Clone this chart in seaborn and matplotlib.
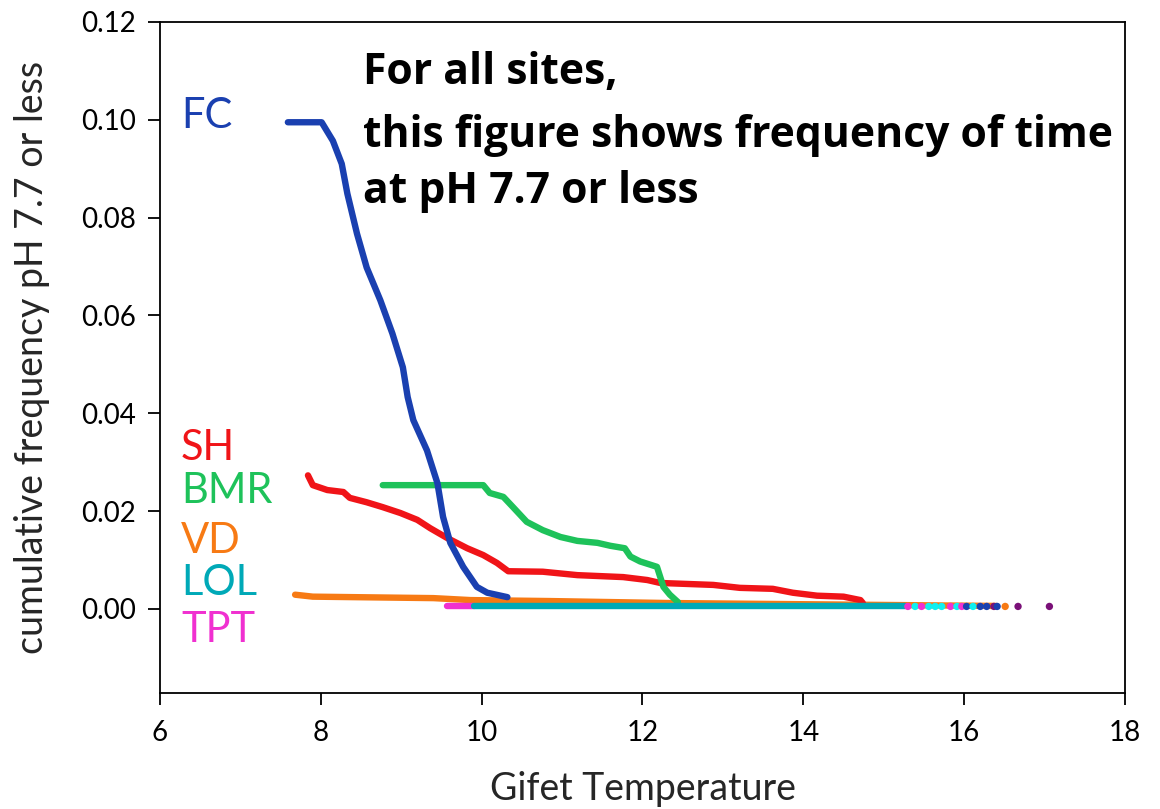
import matplotlib
matplotlib.use("Agg")
import matplotlib.pyplot as plt
import seaborn as sns
import pandas as pd

# ---------------- data ----------------
fc_x = [7.59, 8.01, 8.15, 8.26, 8.33, 8.45, 8.57, 8.74, 8.89, 9.02, 9.08, 9.15,
        9.32, 9.45, 9.52, 9.61, 9.77, 9.94, 10.07, 10.32]
fc_y = [0.0995, 0.0995, 0.0957, 0.0910, 0.0849, 0.0767, 0.0698, 0.0631, 0.0563,
        0.0494, 0.0433, 0.0386, 0.0324, 0.0257, 0.0188, 0.0135, 0.0086, 0.0045,
        0.0033, 0.0024]

sh_x = [7.84, 7.90, 8.08, 8.28, 8.36, 8.57, 8.77, 8.99, 9.20, 9.36, 9.57, 9.82,
        10.02, 10.19, 10.33, 10.76, 11.19, 11.76, 12.06, 12.22, 12.88, 13.21,
        13.62, 13.87, 14.17, 14.50, 14.71, 14.74]
sh_y = [0.0273, 0.0253, 0.0243, 0.0239, 0.0227, 0.0218, 0.0208, 0.0196, 0.0182,
        0.0165, 0.0145, 0.0124, 0.0110, 0.0094, 0.0077, 0.0076, 0.0069, 0.0065,
        0.0059, 0.0053, 0.0049, 0.0043, 0.0041, 0.0033, 0.0027, 0.0025, 0.0018,
        0.0012]

bmr_x = [8.77, 10.02, 10.10, 10.27, 10.39, 10.56, 10.76, 10.98, 11.19, 11.44,
         11.60, 11.78, 11.85, 11.97, 12.18, 12.26, 12.34, 12.44]
bmr_y = [0.0253, 0.0253, 0.0237, 0.0229, 0.0208, 0.0178, 0.0161, 0.0147, 0.0139,
         0.0135, 0.0129, 0.0124, 0.0107, 0.0097, 0.0086, 0.0045, 0.0029, 0.0014]

vd_x = [7.68, 7.90, 9.40, 9.86, 10.85, 12.30, 16.40]
vd_y = [0.0029, 0.0025, 0.0022, 0.0018, 0.0016, 0.0012, 0.0006]

tpt_x = [9.57, 9.90]
tpt_y = [0.0005, 0.0005]

lol_x = [9.90, 15.27]
lol_y = [0.0005, 0.0005]

dot_x = [15.30, 15.39, 15.47, 15.56, 15.64, 15.72, 15.83, 15.91, 15.97, 16.03,
         16.11, 16.20, 16.28, 16.37, 16.41, 16.51, 16.67, 17.06]
dot_y = [0.0005] * len(dot_x)
dot_group = ["TPT", "cyan", "TPT", "cyan", "cyan", "cyan", "TPT", "cyan", "TPT",
             "FC", "cyan", "FC", "FC", "purple", "FC", "VD", "purple", "purple"]

site_names = ["FC", "SH", "BMR", "VD", "LOL", "TPT"]
site_label_y = [0.0984, 0.0304, 0.0216, 0.0114, 0.0029, -0.0067]

annot_lines = ["For all sites,", "this figure shows frequency of time",
               "at pH 7.7 or less"]
annot_y = [0.1073, 0.0945, 0.0829]

x_ticks = [6, 8, 10, 12, 14, 16, 18]
y_ticks = [0.00, 0.02, 0.04, 0.06, 0.08, 0.10, 0.12]

colors = {"FC": "#1a40b0", "SH": "#f01418", "BMR": "#1ec25a", "VD": "#f77a14",
          "LOL": "#00a9b7", "TPT": "#f030d0", "cyan": "#10f0f0",
          "purple": "#7a1078"}

# ---------------- plot ----------------
sns.set_style("ticks")
plt.rcParams["font.family"] = ["Lato", "DejaVu Sans"]

fig = plt.figure(figsize=(11.6, 8.09), dpi=100)
ax = fig.add_axes([160 / 1160, 1 - 693 / 809, (1125 - 160) / 1160, (693 - 22) / 809])

lw = 4.6
series = [("VD", vd_x, vd_y), ("SH", sh_x, sh_y), ("BMR", bmr_x, bmr_y),
          ("FC", fc_x, fc_y), ("TPT", tpt_x, tpt_y), ("LOL", lol_x, lol_y)]
for name, xs, ys in series:
    df = pd.DataFrame({"x": xs, "y": ys})
    sns.lineplot(data=df, x="x", y="y", sort=False, estimator=None, ax=ax,
                 color=colors[name], linewidth=lw, solid_capstyle="round",
                 solid_joinstyle="round")

ddf = pd.DataFrame({"x": dot_x, "y": dot_y, "g": dot_group})
sns.scatterplot(data=ddf, x="x", y="y", hue="g", palette=colors, s=28,
                linewidth=0, ax=ax, legend=False, zorder=3)

ax.set_xlim(6, 18)
ax.set_ylim(-0.0172, 0.12)
ax.set_xticks(x_ticks)
ax.set_xticklabels([str(t) for t in x_ticks])
ax.set_yticks(y_ticks)
ax.set_yticklabels([f"{t:.2f}" for t in y_ticks])
ax.tick_params(axis="both", direction="out", length=8.5, width=1.3,
               labelsize=20, pad=9, colors="black")
ax.tick_params(axis="x", pad=11)
for sp in ax.spines.values():
    sp.set_visible(True)
    sp.set_linewidth(1.3)
    sp.set_color("black")

ax.set_xlabel("Gifet Temperature", fontsize=27, labelpad=18)
ax.set_ylabel("cumulative frequency pH 7.7 or less", fontsize=27, labelpad=22)

for name, yv in zip(site_names, site_label_y):
    ax.text(6.26, yv, name, color=colors[name], fontsize=30, va="baseline",
            ha="left")

for line, yv in zip(annot_lines, annot_y):
    ax.text(8.525, yv, line, fontsize=30.7, fontweight="bold", va="baseline",
            ha="left", color="black", family=["Open Sans", "DejaVu Sans"])

fig.savefig("out.png", dpi=100)
